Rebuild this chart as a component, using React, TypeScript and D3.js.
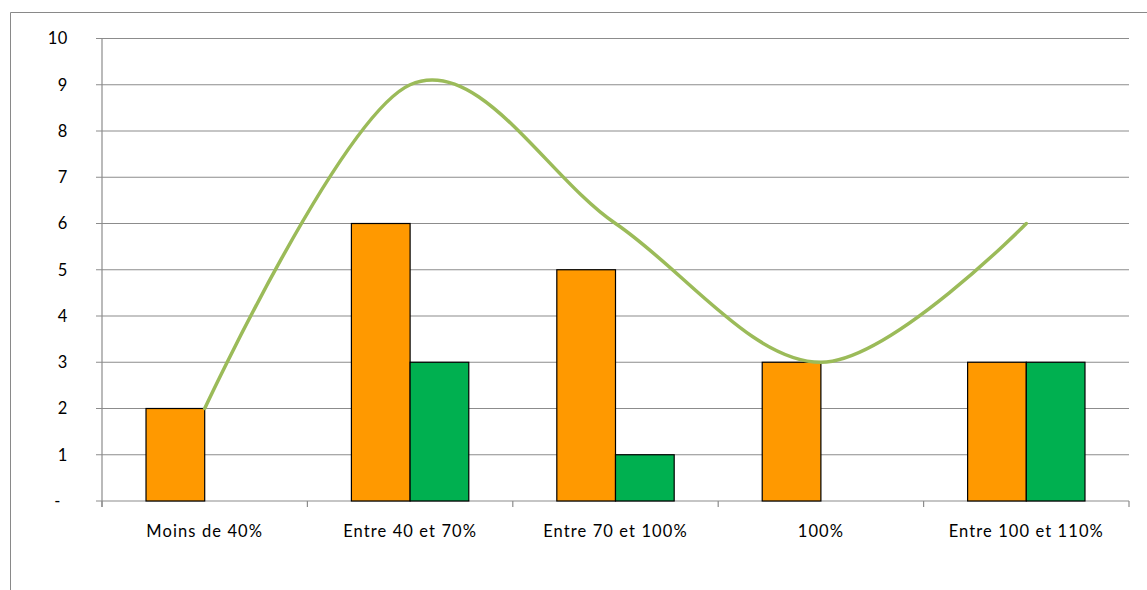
import React from "react";
import * as d3 from "d3";

const categories = ["Moins de 40%", "Entre 40 et 70%", "Entre 70 et 100%", "100%", "Entre 100 et 110%"];
const seriesOrange = [2, 6, 5, 3, 3];
const seriesGreen = [0, 3, 1, 0, 3];
const seriesTotal = [2, 9, 6, 3, 6];
const yTicks = [0, 1, 2, 3, 4, 5, 6, 7, 8, 9, 10];

const W = 1147, H = 590;
const left = 102, right = 1129, top = 38.5, bottom = 501;
const FONT = "Lato, 'Open Sans', sans-serif";

export default function App() {
  const x = d3.scaleBand<string>().domain(categories).range([left, right]).paddingInner(0).paddingOuter(0);
  const y = d3.scaleLinear().domain([0, 10]).range([bottom, top]);
  const bw = x.bandwidth() / 3.5;
  const cx = (c: string) => (x(c) as number) + x.bandwidth() / 2;
  const line = d3.line<number>()
    .x((_, i) => cx(categories[i]))
    .y((d) => y(d))
    .curve(d3.curveCardinal.tension(0));
  const boundaries = [...categories.map((c) => x(c) as number), right];

  return (
    <svg width={W} height={H} style={{ position: "absolute", left: 0, top: 0 }}>
      <rect x={0} y={0} width={W} height={H} fill="#fff" />
      <path d={`M10.5,${H + 5}V12.5H${W + 5}`} fill="none" stroke="#898989" strokeWidth={1} />
      {yTicks.map((t) => (
        <g key={t}>
          <line x1={96} x2={right} y1={y(t)} y2={y(t)} stroke="#8c8c8c" strokeWidth={1.2} />
          <text x={t === 0 ? 61 : 68} y={y(t)} dy="0.36em" textAnchor="end" fontFamily={FONT} fontSize={16.5}
            letterSpacing={0.6} fill="#000">
            {t === 0 ? "-" : t}
          </text>
        </g>
      ))}
      <line x1={left} x2={left} y1={top} y2={bottom + 6} stroke="#8c8c8c" strokeWidth={1.2} />
      {boundaries.map((b, i) => (
        <line key={i} x1={b} x2={b} y1={bottom} y2={bottom + 6} stroke="#8c8c8c" strokeWidth={1.2} />
      ))}
      {categories.map((c, i) => (
        <g key={c}>
          {seriesOrange[i] > 0 && (
            <rect x={cx(c) - bw} y={y(seriesOrange[i])} width={bw} height={bottom - y(seriesOrange[i])}
              fill="#FF9900" stroke="#000" strokeWidth={1.2} />
          )}
          {seriesGreen[i] > 0 && (
            <rect x={cx(c)} y={y(seriesGreen[i])} width={bw} height={bottom - y(seriesGreen[i])}
              fill="#00B050" stroke="#000" strokeWidth={1.2} />
          )}
          <text x={cx(c)} y={536.5} textAnchor="middle" fontFamily={FONT} fontSize={16.5} letterSpacing={1.1}
            fill="#000">{c}</text>
        </g>
      ))}
      <path d={line(seriesTotal) || ""} fill="none" stroke="#9BBB59" strokeWidth={3.5} strokeLinecap="round" />
    </svg>
  );
}
